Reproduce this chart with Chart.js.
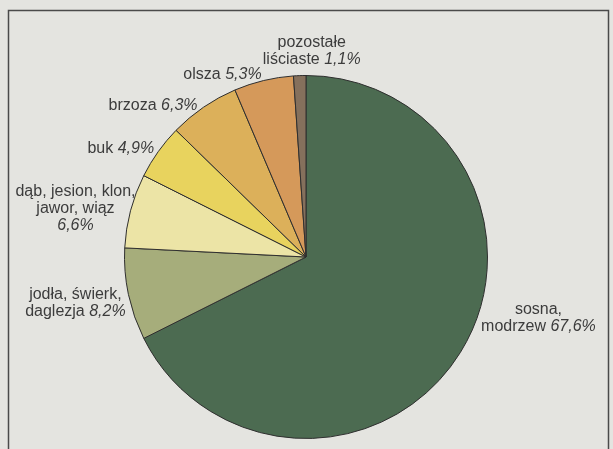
<!DOCTYPE html>
<html>
<head>
<meta charset="utf-8">
<script src="https://cdn.jsdelivr.net/npm/chart.js@4.4.1/dist/chart.umd.min.js"></script>
<style>
  html, body { margin: 0; padding: 0; background: #e4e4e0; }
  #wrap { position: relative; width: 613px; height: 449px; }
</style>
</head>
<body>
<div id="wrap"><canvas id="pie" width="613" height="449"></canvas></div>
<script>
// species groups, clockwise from 12 o'clock
var names = [
    ['sosna,', 'modrzew'],
    ['jodła, świerk,', 'daglezja'],
    ['dąb, jesion, klon,', 'jawor, wiąz', ''],
    ['buk'],
    ['brzoza'],
    ['olsza'],
    ['pozostałe', 'liściaste']
];
var shares = [67.6, 8.2, 6.6, 4.9, 6.3, 5.3, 1.1];
var shareText = ['67,6%', '8,2%', '6,6%', '4,9%', '6,3%', '5,3%', '1,1%'];
var colors = ['#4c6b51', '#a6ad7b', '#ece4a6', '#e8d35e', '#dcb05a', '#d5995a', '#85705c'];

// label placement relative to the outer edge of each slice (dx, dy, align)
var labelPlace = [
    { dx: 78, dy: -34, align: 'center' },
    { dx: -53, dy: 9, align: 'center' },
    { dx: -55, dy: -2, align: 'center' },
    { dx: -4, dy: -3, align: 'right' },
    { dx: -6, dy: -2, align: 'right' },
    { dx: -2, dy: -6, align: 'right' },
    { dx: 12, dy: -25, align: 'center' }
];

var FONT = '16px "Liberation Sans", Arial, sans-serif';
var FONT_I = 'italic 16px "Liberation Sans", Arial, sans-serif';
var LINE_H = 17;

var frame = {
    id: 'frame',
    beforeDraw: function (chart) {
        var ctx = chart.ctx;
        ctx.save();
        ctx.fillStyle = '#e4e4e0';
        ctx.fillRect(0, 0, chart.width, chart.height);
        ctx.strokeStyle = '#4a4a4a';
        ctx.lineWidth = 1.5;
        ctx.beginPath();
        ctx.moveTo(8.5, chart.height + 5);
        ctx.lineTo(8.5, 10.5);
        ctx.lineTo(608.5, 10.5);
        ctx.lineTo(608.5, chart.height + 5);
        ctx.stroke();
        ctx.restore();
    }
};

var labels = {
    id: 'sliceLabels',
    afterDatasetsDraw: function (chart) {
        var ctx = chart.ctx;
        var arcs = chart.getDatasetMeta(0).data;
        ctx.save();
        ctx.fillStyle = '#3c3c3c';
        ctx.textBaseline = 'middle';
        for (var i = 0; i < arcs.length; i++) {
            var a = arcs[i];
            var mid = (a.startAngle + a.endAngle) / 2;
            var ex = a.x + Math.cos(mid) * a.outerRadius;
            var ey = a.y + Math.sin(mid) * a.outerRadius;
            var p = labelPlace[i];
            var lines = names[i];
            var n = lines.length;
            var y0 = ey + p.dy - (n - 1) * LINE_H / 2;
            for (var j = 0; j < n; j++) {
                var last = j === n - 1;
                var plainTxt = last ? (lines[j] ? lines[j] + ' ' : '') : lines[j];
                ctx.font = FONT;
                var w1 = ctx.measureText(plainTxt).width;
                ctx.font = FONT_I;
                var w2 = last ? ctx.measureText(shareText[i]).width : 0;
                var x = ex + p.dx;
                if (p.align === 'center') x -= (w1 + w2) / 2;
                else if (p.align === 'right') x -= w1 + w2;
                var y = y0 + j * LINE_H;
                ctx.textAlign = 'left';
                ctx.font = FONT;
                ctx.fillText(plainTxt, x, y);
                if (last) {
                    ctx.font = FONT_I;
                    ctx.fillText(shareText[i], x + w1, y);
                }
            }
        }
        ctx.restore();
    }
};

new Chart(document.getElementById('pie'), {
    type: 'pie',
    data: {
        labels: names.map(function (n) { return n.join(' '); }),
        datasets: [
            {
                data: shares,
                backgroundColor: colors,
                borderColor: '#2f2f2f',
                borderWidth: 1
            }
        ]
    },
    options: {
        responsive: false,
        animation: false,
        layout: { padding: { top: 75, bottom: 10, left: 124, right: 125 } },
        plugins: {
            legend: { display: false },
            tooltip: { enabled: false }
        }
    },
    plugins: [frame, labels]
});
</script>
</body>
</html>
